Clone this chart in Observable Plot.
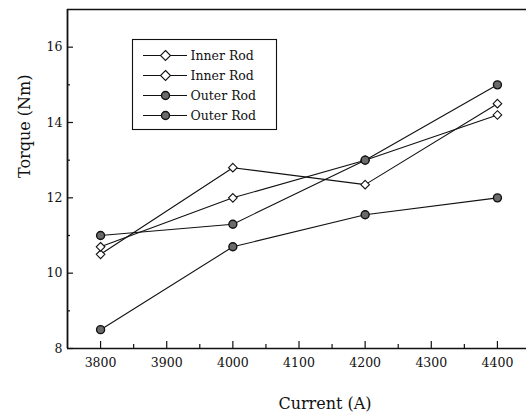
<!DOCTYPE html>
<html><head><meta charset="utf-8">
<script src="https://cdn.jsdelivr.net/npm/d3@7"></script>
<script src="https://cdn.jsdelivr.net/npm/@observablehq/plot@0.6"></script>
<style>body{margin:0;background:#fff}</style>
</head><body><div id="chart"></div>
<script>
// ---- data ----
const currents = [3800, 4000, 4200, 4400];
const innerRod1 = [10.5, 12.8, 12.35, 14.5];
const innerRod2 = [10.7, 12.0, 13.0, 14.2];
const outerRod1 = [11.0, 11.3, 13.0, 15.0];
const outerRod2 = [8.5, 10.7, 11.55, 12.0];
const seriesNames = ["Inner Rod", "Inner Rod", "Outer Rod", "Outer Rod"];
const seriesKinds = ["inner", "inner", "outer", "outer"];
const xTicks = [3800, 3900, 4000, 4100, 4200, 4300, 4400];
const xMinorTicks = [3850, 3950, 4050, 4150, 4250, 4350, 4450];
const yTicks = [8, 10, 12, 14, 16];
const yMinorTicks = [9, 11, 13, 15];
const xDomain = [3750, 4450];
const yDomain = [8, 17];
const xLabel = "Current (A)";
const yLabel = "Torque (Nm)";

const allSeries = [innerRod1, innerRod2, outerRod1, outerRod2];
const rows = allSeries.flatMap((vals, s) =>
  vals.map((v, i) => ({series: s, kind: seriesKinds[s], current: currents[i], torque: v})));
const innerRows = rows.filter(d => d.kind === "inner");
const outerRows = rows.filter(d => d.kind === "outer");

const diamond = {
  draw(ctx, size) {
    const r = Math.sqrt(size / Math.PI);
    ctx.moveTo(0, -r); ctx.lineTo(r, 0); ctx.lineTo(0, r); ctx.lineTo(-r, 0); ctx.closePath();
  }
};

const W = 526, H = 413, mL = 67, mT = 9, mB = 65;
const font = "DejaVu Serif";

const svg = Plot.plot({
  width: W, height: H,
  marginLeft: mL, marginRight: 0, marginTop: mT, marginBottom: mB,
  style: {fontFamily: font, fontSize: "12.5px", background: "#fff", color: "#111"},
  x: {domain: xDomain, range: [mL, 530]},
  y: {domain: yDomain, range: [H - mB, mT]},
  marks: [
    // frame
    Plot.ruleY([yDomain[0], yDomain[1]], {stroke: "#111", strokeWidth: 1.6}),
    Plot.ruleX([xDomain[0]], {stroke: "#111", strokeWidth: 1.8}),
    // inward ticks
    Plot.tickX(xTicks, {x: d => d, insetTop: H - mB - mT - 7, stroke: "#111", strokeWidth: 1.2}),
    Plot.tickX(xMinorTicks, {x: d => d, insetTop: H - mB - mT - 4, stroke: "#111", strokeWidth: 1.2}),
    Plot.tickY(yTicks, {y: d => d, insetRight: W - mL - 6, stroke: "#111", strokeWidth: 1.2}),
    Plot.tickY(yMinorTicks, {y: d => d, insetRight: W - mL - 3, stroke: "#111", strokeWidth: 1.2}),
    // tick labels
    Plot.axisX({ticks: xTicks, tickSize: 0, tickPadding: 10, label: null, fontSize: 12.5, tickFormat: d => String(d)}),
    Plot.axisY({ticks: yTicks, tickSize: 0, tickPadding: 5, label: null, fontSize: 12.5}),
    // axis titles
    Plot.text([xLabel], {frameAnchor: "bottom", text: d => d, dx: 28, dy: 55, lineAnchor: "middle", fontSize: 16}),
    Plot.text([yLabel], {frameAnchor: "left", text: d => d, rotate: -90, dx: -43, dy: -1, lineAnchor: "middle", fontSize: 16}),
    // series lines
    Plot.line(rows, {x: "current", y: "torque", z: "series", stroke: "#111", strokeWidth: 1.1}),
    // markers
    Plot.dot(innerRows, {x: "current", y: "torque", symbol: diamond, r: 4.3, fill: "#fff", stroke: "#111", strokeWidth: 1.1}),
    Plot.dot(outerRows, {x: "current", y: "torque", r: 4, fill: "#6a6a6a", stroke: "#111", strokeWidth: 1.4})
  ]
});

// legend
const lg = d3.select(svg).append("g").attr("font-family", font).attr("font-size", 12.5)
  .attr("text-anchor", "start");
lg.append("rect").attr("x", 132.5).attr("y", 39.5).attr("width", 144).attr("height", 90)
  .attr("fill", "#fff").attr("stroke", "#111").attr("stroke-width", 1.1);
seriesNames.forEach((name, i) => {
  const cy = 55.5 + i * 20;
  const g = lg.append("g");
  g.append("line").attr("x1", 143).attr("x2", 187).attr("y1", cy).attr("y2", cy)
    .attr("stroke", "#111").attr("stroke-width", 1.1);
  if (seriesKinds[i] === "inner") {
    g.append("path").attr("d", d3.symbol(diamond, Math.PI * 5 * 5)())
      .attr("transform", `translate(165.5,${cy})`)
      .attr("fill", "#fff").attr("stroke", "#111").attr("stroke-width", 1.1);
  } else {
    g.append("circle").attr("cx", 165.5).attr("cy", cy).attr("r", 4)
      .attr("fill", "#6a6a6a").attr("stroke", "#111").attr("stroke-width", 1.4);
  }
  g.append("text").attr("x", 190.5).attr("y", cy).attr("dy", "0.35em")
    .attr("text-anchor", "start").attr("fill", "#111").text(name);
});

document.getElementById("chart").appendChild(svg);
</script>
</body></html>
